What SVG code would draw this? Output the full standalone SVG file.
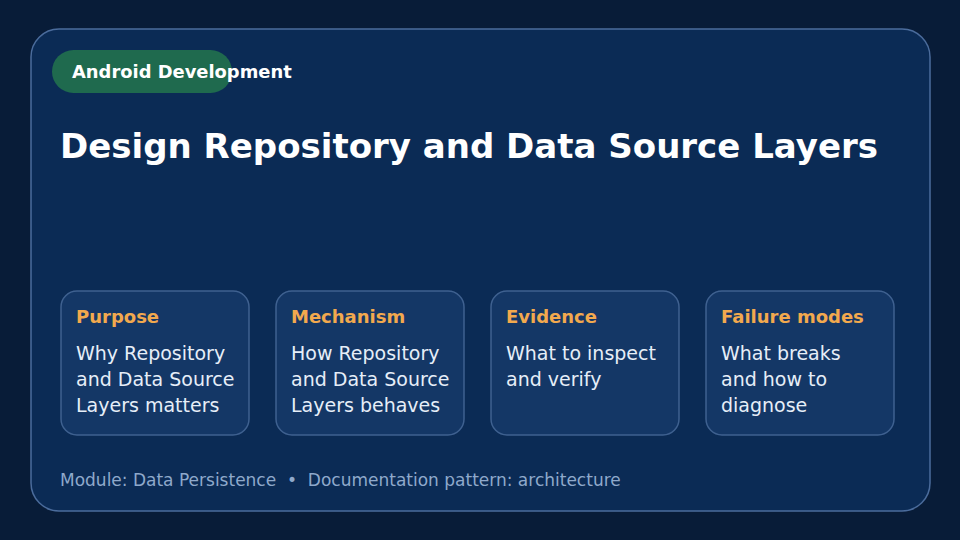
<svg xmlns="http://www.w3.org/2000/svg" width="960" height="540" viewBox="0 0 960 540">
<style>
text{font-family:"DejaVu Sans","Liberation Sans",sans-serif}
.card{fill:#143766;stroke:#3f6190;stroke-width:1.5}
.h{fill:#f2a94e;font-weight:bold;font-size:18px}
.b{fill:#e6eef8;font-size:19px}
</style>
<rect width="960" height="540" fill="#081c38"/>
<rect x="31" y="29" width="899" height="482" rx="28" fill="#0b2b55" stroke="#4b6c9c" stroke-width="1.5"/>
<g id="badge"><rect x="52" y="50" width="180" height="43" rx="21.5" fill="#1f6a4e"/>
<text x="72" y="78" fill="#fff" font-weight="bold" font-size="17.9">Android Development</text></g>
<text id="title" x="60" y="158" fill="#fff" font-weight="bold" font-size="34">Design Repository and Data Source Layers</text>
<g id="purpose"><rect class="card" x="61" y="291" width="188" height="144" rx="16"/>
<text class="h" x="76" y="323">Purpose</text>
<text class="b" x="76" y="360">Why Repository</text><text class="b" x="76" y="386">and Data Source</text><text class="b" x="76" y="412">Layers matters</text></g>
<g id="mechanism"><rect class="card" x="276" y="291" width="188" height="144" rx="16"/>
<text class="h" x="291" y="323">Mechanism</text>
<text class="b" x="291" y="360">How Repository</text><text class="b" x="291" y="386">and Data Source</text><text class="b" x="291" y="412">Layers behaves</text></g>
<g id="evidence"><rect class="card" x="491" y="291" width="188" height="144" rx="16"/>
<text class="h" x="506" y="323">Evidence</text>
<text class="b" x="506" y="360">What to inspect</text><text class="b" x="506" y="386">and verify</text></g>
<g id="failure"><rect class="card" x="706" y="291" width="188" height="144" rx="16"/>
<text class="h" x="721" y="323">Failure modes</text>
<text class="b" x="721" y="360">What breaks</text><text class="b" x="721" y="386">and how to</text><text class="b" x="721" y="412">diagnose</text></g>
<g id="connectors"/>
<text x="60" y="486" fill="#8fa9cb" font-size="17" style="white-space:pre">Module: Data Persistence  •  Documentation pattern: architecture</text>
</svg>
